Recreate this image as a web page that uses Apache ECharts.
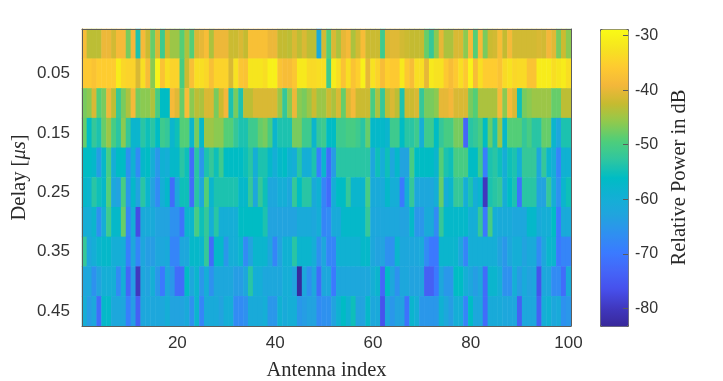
<!DOCTYPE html>
<html><head><meta charset="utf-8">
<style>html,body{margin:0;padding:0;background:#fff}#c{width:723px;height:381px}</style>
<script src="https://cdn.jsdelivr.net/npm/echarts@6/dist/echarts.min.js"></script>
</head><body><div id="c"></div>
<script>
const antennaIndex = Array.from({length:100},(_, i)=>String(i+1));
const delays = ['0.00','0.05','0.10','0.15','0.20','0.25','0.30','0.35','0.40','0.45'];
const colorbarTicks = [-80,-70,-60,-50,-40,-30];
const powerMin = -83.2, powerMax = -28.8;
const parulaStops = ['#38289a','#4038c0','#4650ec','#4466f8','#3a7bff','#2f90f0','#21a4de','#12b0d4','#00bcc4','#2fc6a0','#4fce7a','#8fca4e','#c6bb30','#f4b73a','#fecb30','#f6e41f','#f9fb15'];

const row0 = [-38,-43,-43,-43,-39.5,-39.5,-41.5,-38.5,-38.5,-47, -39,-54,-38.5,-42,-48,-41,-51,-42,-45,-45, -49,-44,-49,-41,-40,-38,-44,-39.5,-39.5,-39.5, -42,-42,-41,-42.5,-37.5,-37.5,-37.5,-37.5,-39.5,-39.5, -42.5,-42.5,-43,-41,-43,-41,-43,-43,-61,-41.5, -49,-41,-44,-40,-38.5,-44,-41.5,-38,-42,-42, -42,-51,-41,-40.5,-40.5,-41.5,-42,-42.5,-42.5,-42.5, -48,-52,-46,-40,-44,-44,-41,-41,-46,-38.5, -49,-38.5,-47,-42,-41.5,-38,-42.5,-38.5,-41.5,-41.5, -41.5,-41.5,-41.5,-41,-41.5,-39,-40.5,-47,-42,-46];
const row1 = [-36,-36,-37,-35.5,-35.5,-35.5,-35.5,-31,-34,-34.5, -34.5,-41,-33,-38,-46,-30,-37,-33,-34.5,-34.5, -50,-42,-37.5,-33,-33,-34,-37.5,-34.5,-34.5,-34.5, -41,-32.5,-36.5,-37,-32,-32,-32,-33,-30.5,-30.5, -37,-38,-38,-36.5,-31.5,-31.5,-33.5,-33.5,-33,-33, -51,-31,-33,-37,-33,-37,-35,-30.5,-40,-32.5, -34.5,-38,-35,-36,-36,-31.5,-36,-38,-33,-33, -40,-31.5,-32.5,-32.5,-36,-38,-36,-33,-36,-30, -38,-33,-35.5,-35.5,-35.5,-37,-33.5,-32.5,-34,-33.5, -33.5,-37,-37,-31,-31,-31,-33,-32,-31,-33];
const row2 = [-47,-46,-41,-49,-47,-39.5,-43,-52,-47,-44, -38.5,-47,-46,-46,-44,-50,-56,-56,-38.5,-40.5, -48,-38,-46,-43,-44,-41,-41,-47,-42,-39, -54,-47,-54,-43,-43,-41,-41,-41,-41,-41, -45,-52,-46,-39.5,-46,-47,-45,-42,-45,-45, -42,-44,-41,-48,-41,-38.5,-42,-42,-42,-50, -44,-52,-43,-41,-43,-54,-42,-42,-41,-52, -47,-47,-46,-40,-40,-39,-41,-41,-41,-47, -49,-44,-44,-44,-44,-38.5,-46,-38.5,-41,-55, -47,-46,-45,-45,-45,-45,-48,-48,-43,-43];
const row3 = [-48,-56,-52,-54,-48,-45,-50,-53,-46,-52, -58,-58,-53,-55,-53,-56,-51,-52,-58,-55, -49,-49,-58,-47,-57,-45,-45,-46,-46,-49, -49,-52,-54,-54,-51,-51,-48,-47,-50,-58, -54,-54,-54,-47,-47,-51,-51,-58,-52,-51, -56,-56,-51,-51,-50,-50,-51,-53,-48,-57, -57,-57,-58,-51,-51,-56,-53,-53,-51,-60, -51,-51,-56,-52,-50,-50,-47,-47,-73,-53, -52,-50,-56,-48,-54,-45,-57,-49,-49,-49, -52,-50,-53,-53,-48,-48,-58,-62,-54,-54];
const row4 = [-56,-56,-57,-64,-57,-50,-60,-56,-56,-66, -59,-67,-57,-56,-60,-65,-59,-60,-57,-57, -53,-55,-72,-53,-65,-54,-52,-55,-51,-56, -56,-56,-56,-55,-53,-60,-54,-54,-57,-60, -57,-56,-59,-60,-53,-60,-60,-54,-69,-58, -72,-64,-53,-53,-53,-53,-53,-53,-53,-62, -55,-60,-55,-62,-57,-63,-63,-50,-56,-56, -56,-56,-58,-49,-54,-55,-50,-50,-50,-56, -56,-51,-69,-54,-53,-55,-60,-55,-54,-60, -52,-52,-52,-62,-52,-58,-60,-68,-59,-59];
const row5 = [-57,-58,-53,-55,-57,-49,-62,-63,-50,-65, -57,-63,-53,-58,-63,-67,-60,-57,-72,-62, -55,-55,-72,-53,-62,-49,-58,-54,-54,-54, -54,-54,-57,-57,-52,-62,-52,-55,-62,-62, -60,-60,-62,-52,-56,-53,-53,-61,-59,-68, -72,-60,-56,-56,-52,-58,-58,-58,-50,-61, -61,-61,-57,-60,-60,-70,-60,-52,-62,-62, -62,-62,-60,-48,-60,-58,-52,-52,-60,-54, -60,-58,-80,-54,-53,-52,-60,-56,-54,-71, -53,-53,-53,-63,-63,-52,-60,-66,-58,-55];
const row6 = [-60,-60,-58,-66,-60,-51,-57,-57,-48,-68, -60,-77,-61,-61,-61,-63,-63,-63,-66,-66, -71,-58,-58,-50,-55,-52,-60,-53,-60,-60, -60,-60,-56,-56,-56,-56,-56,-54,-63,-63, -63,-63,-63,-63,-61,-61,-61,-62,-60,-68, -67,-61,-61,-57,-57,-57,-57,-57,-52,-62, -62,-62,-62,-62,-62,-63,-63,-57,-65,-65, -61,-61,-67,-52,-57,-57,-57,-57,-57,-60, -60,-52,-70,-50,-60,-61,-61,-61,-62,-62, -62,-57,-57,-61,-60,-60,-56,-70,-61,-61];
const row7 = [-52,-62,-60,-58,-57,-57,-60,-60,-60,-69, -62,-68,-62,-64,-64,-62,-62,-61,-68,-68, -62,-62,-57,-57,-58,-52,-72,-57,-57,-65, -60,-60,-58,-67,-63,-58,-58,-58,-62,-68, -63,-59,-59,-53,-58,-58,-58,-60,-66,-62, -68,-68,-59,-59,-59,-59,-59,-57,-57,-62, -63,-63,-66,-66,-58,-62,-62,-62,-62,-61, -67,-70,-70,-58,-58,-58,-58,-62,-68,-60, -60,-60,-60,-60,-60,-63,-65,-62,-60,-60, -63,-61,-61,-67,-62,-58,-58,-70,-68,-68];
const row8 = [-62,-62,-66,-63,-60,-60,-60,-67,-60,-73, -64,-80,-62,-63,-60,-65,-70,-62,-65,-72, -72,-56,-62,-58,-65,-60,-66,-62,-62,-62, -62,-64,-64,-62,-53,-60,-60,-62,-62,-62, -62,-60,-60,-63,-83,-62,-66,-62,-72,-62, -62,-70,-62,-62,-62,-62,-62,-62,-62,-60, -58,-73,-56,-62,-66,-62,-62,-63,-63,-63, -74,-74,-70,-62,-65,-65,-56,-56,-60,-62, -64,-62,-72,-58,-58,-60,-66,-66,-60,-64, -61,-63,-62,-76,-62,-62,-67,-67,-72,-61];
const row9 = [-60,-64,-62,-72,-57,-57,-62,-62,-62,-69, -64,-74,-62,-62,-62,-62,-62,-60,-63,-63, -63,-61,-66,-58,-68,-61,-61,-61,-63,-60, -60,-67,-67,-66,-61,-61,-61,-60,-65,-65, -59,-61,-60,-60,-65,-64,-63,-63,-67,-66, -66,-63,-59,-56,-59,-55,-63,-63,-57,-62, -61,-76,-62,-65,-63,-63,-71,-58,-60,-65, -65,-65,-65,-59,-62,-64,-60,-60,-68,-56, -62,-62,-72,-61,-61,-61,-62,-62,-62,-74, -62,-62,-62,-74,-60,-59,-62,-61,-66,-65];
const rows = [row0,row1,row2,row3,row4,row5,row6,row7,row8,row9];

const cells = [];
rows.forEach((r,y)=>r.forEach((v,x)=>cells.push([x,y,v])));

const sans = '"Liberation Sans", Arial, sans-serif';
const serif = '"Liberation Serif", "Times New Roman", serif';
const ink = '#333333', edge = '#5c5c5c';
const xShow = i => (i+1)%20===0;
const yShow = i => i%2===1;
const labelStyle = {color:ink,fontFamily:sans,fontSize:17};
const nameStyle = {color:'#2a2a2a',fontFamily:serif,fontSize:20.5};

const chart = echarts.init(document.getElementById('c'),null,{renderer:'canvas'});
chart.setOption({
  animation:false,
  backgroundColor:'#fff',
  grid:[
    {left:82,top:29,width:489,height:297,outerBoundsMode:'none'},
    {left:600,top:29,width:28,height:297,outerBoundsMode:'none'}
  ],
  xAxis:[
    {type:'category',gridIndex:0,data:antennaIndex,position:'bottom',z:10,
     name:'Antenna index',nameLocation:'middle',nameGap:34,nameTextStyle:nameStyle,
     axisLine:{lineStyle:{color:edge,width:1}},
     axisTick:{inside:true,length:5,alignWithLabel:true,interval:xShow,lineStyle:{color:edge}},
     axisLabel:{interval:xShow,margin:9,...labelStyle},splitLine:{show:false}},
    {type:'category',gridIndex:0,data:antennaIndex,position:'top',z:10,
     axisLine:{lineStyle:{color:edge,width:1}},
     axisTick:{inside:true,length:5,alignWithLabel:true,interval:xShow,lineStyle:{color:edge}},
     axisLabel:{show:false},splitLine:{show:false}},
    {type:'value',gridIndex:1,min:0,max:1,show:false}
  ],
  yAxis:[
    {type:'category',gridIndex:0,data:delays,inverse:true,position:'left',z:10,
     name:'Delay [{it|μs}]',nameLocation:'middle',nameGap:52,nameRotate:90,nameMoveOverlap:false,
     nameTextStyle:{...nameStyle,rich:{it:{fontStyle:'italic',fontFamily:serif,fontSize:20.5,color:'#2a2a2a'}}},
     axisLine:{lineStyle:{color:edge,width:1}},
     axisTick:{inside:true,length:5,alignWithLabel:true,interval:yShow,lineStyle:{color:edge}},
     axisLabel:{interval:yShow,margin:12,...labelStyle},splitLine:{show:false}},
    {type:'category',gridIndex:0,data:delays,inverse:true,position:'right',z:10,
     axisLine:{lineStyle:{color:edge,width:1}},
     axisTick:{inside:true,length:5,alignWithLabel:true,interval:yShow,lineStyle:{color:edge}},
     axisLabel:{show:false},splitLine:{show:false}},
    {type:'value',gridIndex:1,min:powerMin,max:powerMax,position:'right',z:10,
     name:'Relative Power in dB',nameLocation:'middle',nameGap:41,nameRotate:90,nameTextStyle:nameStyle,
     axisLine:{show:false,onZero:false},
     axisTick:{inside:true,length:5,customValues:colorbarTicks,lineStyle:{color:edge}},
     axisLabel:{customValues:colorbarTicks,margin:7,...labelStyle,fontSize:16},
     splitLine:{show:false}}
  ],
  visualMap:{
    type:'continuous',min:powerMin,max:powerMax,seriesIndex:0,calculable:false,
    left:600,top:29,itemWidth:28,itemHeight:297,padding:0,text:null,showLabel:false,
    borderColor:edge,borderWidth:1,z:1,
    inRange:{color:parulaStops}
  },
  series:[
    {type:'heatmap',xAxisIndex:0,yAxisIndex:0,data:cells,silent:true,progressive:0,
     itemStyle:{borderWidth:0},emphasis:{disabled:true}},
    {type:'scatter',xAxisIndex:2,yAxisIndex:2,data:[],silent:true}
  ]
});
</script></body></html>
